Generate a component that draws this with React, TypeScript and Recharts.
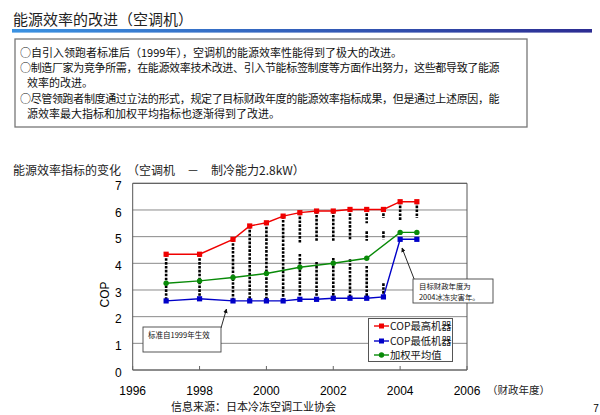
import { ComposedChart, Line, XAxis, YAxis, CartesianGrid, ReferenceLine, ReferenceArea, Legend } from 'recharts'

const years = [1997, 1998, 1999, 1999.5, 2000, 2000.5, 2001, 2001.5, 2002, 2002.5, 2003, 2003.5, 2004, 2004.5]
const copMax = [4.34, 4.34, 4.9, 5.4, 5.52, 5.77, 5.9, 5.96, 5.96, 6.02, 6.02, 6.02, 6.31, 6.31]
const copMin = [2.59, 2.67, 2.59, 2.59, 2.59, 2.59, 2.65, 2.65, 2.69, 2.69, 2.69, 2.74, 4.9, 4.9]
const avgYears = [1997, 1998, 1999, 2000, 2001, 2002, 2003, 2004, 2004.5]
const copAvg = [3.25, 3.34, 3.47, 3.62, 3.85, 4.0, 4.19, 5.16, 5.16]
// individual models per year, as [low, high] runs of the dotted columns
const modelSpread: [number, number][][] = [
    [[2.6, 4.34]],
    [[2.67, 4.34]],
    [[2.59, 4.9]],
    [[2.59, 5.4]],
    [[2.59, 5.52]],
    [[2.59, 5.77]],
    [[4.75, 5.9], [2.65, 4.35]],
    [[4.85, 5.96], [2.65, 4.05]],
    [[4.85, 5.96], [2.69, 4.2]],
    [[4.85, 6.02], [2.69, 4.15]],
    [[5.5, 6.02], [4.85, 5.2], [2.69, 3.9]],
    [[5.7, 6.02], [4.9, 5.2], [2.74, 3.25]],
    [[5.6, 6.31]],
    [[5.7, 6.31]],
]
const xTicks = [1996, 1998, 2000, 2002, 2004, 2006]
const yTicks = [0, 1, 2, 3, 4, 5, 6, 7]
const seriesNames = ['COP最高机器', 'COP最低机器', '加权平均值']
const seriesColors = ['#f00000', '#0000c8', '#088a08']

const maxData = years.map((x, i) => ({ x, y: copMax[i] }))
const minData = years.map((x, i) => ({ x, y: copMin[i] }))
const avgData = avgYears.map((x, i) => ({ x, y: copAvg[i] }))

const cjk = '"Noto Sans CJK SC", sans-serif'
const latin = '"Liberation Sans", Arial, sans-serif'

const squareDot = (color: string) => (p: any) => (
    <rect key={`sq-${p.index}`} x={p.cx - 2.6} y={p.cy - 2.6} width={5.2} height={5.2} fill={color} />
)

function LegendBox() {
    return (
        <div style={{ background: '#fff', border: '1px solid #555', width: 85, height: 44, boxSizing: 'border-box', padding: '0 0 0 5px', fontFamily: cjk }}>
            {seriesNames.map((name, i) => (
                <div key={name} style={{ display: 'flex', alignItems: 'center', height: 14.5, whiteSpace: 'nowrap' }}>
                    <svg width={15} height={8} style={{ flexShrink: 0 }}>
                        <line x1={0} y1={4} x2={15} y2={4} stroke={seriesColors[i]} strokeWidth={1.4} />
                        {i < 2 ? (
                            <rect x={5} y={1.5} width={5} height={5} fill={seriesColors[i]} />
                        ) : (
                            <circle cx={7.5} cy={4} r={2.7} fill={seriesColors[i]} />
                        )}
                    </svg>
                    <span style={{ marginLeft: 1, fontSize: 10.3, color: '#111', lineHeight: '12px' }}>{name}</span>
                </div>
            ))}
        </div>
    )
}

const paragraph = [
    { x: 20, y: 57, ls: 0, t: '○自引入领跑者标准后（1999年），空调机的能源效率性能得到了极大的改进。' },
    { x: 20, y: 72, ls: -0.35, t: '○制造厂家为竞争所需，在能源效率技术改进、引入节能标签制度等方面作出努力，这些都导致了能源' },
    { x: 27, y: 86.5, ls: 0, t: '效率的改进。' },
    { x: 20, y: 102.5, ls: -0.35, t: '○尽管领跑者制度通过立法的形式，规定了目标财政年度的能源效率指标成果，但是通过上述原因，能' },
    { x: 27, y: 117.5, ls: 0, t: '源效率最大指标和加权平均指标也逐渐得到了改进。' },
]

export default function App() {
    return (
        <div style={{ position: 'absolute', left: 0, top: 0, width: 600, height: 415, background: '#fff', overflow: 'hidden' }}>
            <div style={{ position: 'absolute', left: 0, top: 0 }}>
                <ComposedChart width={600} height={415} margin={{ top: 183.3, right: 133, bottom: 25, left: 102.7 }}>
                    <CartesianGrid vertical={false} stroke="#8a8a8a" />
                    <ReferenceArea x1={1996} x2={2006} y1={0} y2={7} fill="none" stroke="#555" strokeWidth={1} />
                    <XAxis
                        type="number"
                        dataKey="x"
                        domain={[1996, 2006]}
                        ticks={xTicks}
                        axisLine={false}
                        tickSize={-4}
                        tickMargin={20}
                        tickLine={{ stroke: '#666' }}
                        height={20}
                        tick={{ fill: '#000', fontSize: 12, fontFamily: latin }}
                    />
                    <YAxis
                        type="number"
                        domain={[0, 7]}
                        ticks={yTicks}
                        width={30}
                        axisLine={false}
                        tickLine={false}
                        tickSize={0}
                        tickMargin={11}
                        tick={{ fill: '#000', fontSize: 12, fontFamily: latin, dy: 2.5 }}
                    />
                    {years.map((x, i) =>
                        modelSpread[i].map(([lo, hi], j) => (
                            <ReferenceLine
                                key={`m-${i}-${j}`}
                                segment={[{ x, y: hi }, { x, y: lo }]}
                                stroke="#000"
                                strokeWidth={2.6}
                                strokeDasharray="2.6 1.3"
                            />
                        ))
                    )}
                    <Line data={maxData} dataKey="y" name={seriesNames[0]} stroke={seriesColors[0]} strokeWidth={1.4} dot={squareDot(seriesColors[0])} isAnimationActive={false} />
                    <Line data={minData} dataKey="y" name={seriesNames[1]} stroke={seriesColors[1]} strokeWidth={1.4} dot={squareDot(seriesColors[1])} isAnimationActive={false} />
                    <Line data={avgData} dataKey="y" name={seriesNames[2]} stroke={seriesColors[2]} strokeWidth={1.4} dot={{ r: 2.7, fill: seriesColors[2], stroke: seriesColors[2], strokeWidth: 0 }} isAnimationActive={false} />
                    <Legend
                        layout="vertical"
                        align="center"
                        verticalAlign="middle"
                        wrapperStyle={{ left: 368, top: 318, width: 85, height: 44 }}
                        content={() => <LegendBox />}
                    />
                </ComposedChart>
            </div>
            <svg width={600} height={415} style={{ position: 'absolute', left: 0, top: 0, pointerEvents: 'none' }}>
                <defs>
                    <linearGradient id="bar" x1="0" x2="1" y1="0" y2="0">
                        <stop offset="0" stopColor="#3a92e2" />
                        <stop offset="1" stopColor="#2c2c92" />
                    </linearGradient>
                    <marker id="ah" viewBox="0 0 10 10" refX="9" refY="5" markerWidth="5" markerHeight="5" orient="auto">
                        <path d="M0,0 L10,5 L0,10 z" fill="#111" />
                    </marker>
                </defs>
                <text x={13} y={24.5} fontSize={15} fontFamily={cjk} fill="#222">能源效率的改进（空调机）</text>
                <rect x={12} y={29} width={580} height={3.6} fill="url(#bar)" />
                <rect x={15} y={39} width={512} height={88} fill="#fff" stroke="#777" strokeWidth={1.3} />
                {paragraph.map((l) => (
                    <text key={l.y} x={l.x} y={l.y} fontSize={11} letterSpacing={l.ls} fontFamily={cjk} fill="#111">{l.t}</text>
                ))}
                <text x={13} y={175} fontSize={12} fontFamily={cjk} fill="#222" xmlSpace="preserve">能源效率指标的变化　（空调机　－　制冷能力2.8kW）</text>
                <text transform="translate(105,294.5) rotate(-90)" textAnchor="middle" dominantBaseline="central" fontSize={12} fontFamily={latin} fill="#000">COP</text>
                <text x={487} y={394} fontSize={10.5} fontFamily={cjk} fill="#222">（财政年度）</text>
                <text x={171} y={411} fontSize={11} fontFamily={cjk} fill="#111">信息来源：日本冷冻空调工业协会</text>
                <text x={596} y={412} textAnchor="middle" fontSize={10} fontFamily={latin} fill="#000">7</text>

                <line x1={221} y1={328} x2={226.5} y2={309} stroke="#111" strokeWidth={0.9} markerEnd="url(#ah)" />
                <rect x={143} y={327} width={78} height={25} fill="#fff" stroke="#444" strokeWidth={0.9} />
                <text x={148} y={338} fontSize={7.5} fontFamily={cjk} fill="#111">标准自1999年生效</text>

                <line x1={414.5} y1={280} x2={402} y2={248} stroke="#111" strokeWidth={0.9} markerEnd="url(#ah)" />
                <rect x={413} y={279} width={80} height={24} fill="#fff" stroke="#444" strokeWidth={0.9} />
                <text x={419} y={289} fontSize={7.4} fontFamily={cjk} fill="#111">目标财政年度为</text>
                <text x={419} y={299.5} fontSize={7.4} fontFamily={cjk} fill="#111">2004冰冻灾害年。</text>
            </svg>
        </div>
    )
}
